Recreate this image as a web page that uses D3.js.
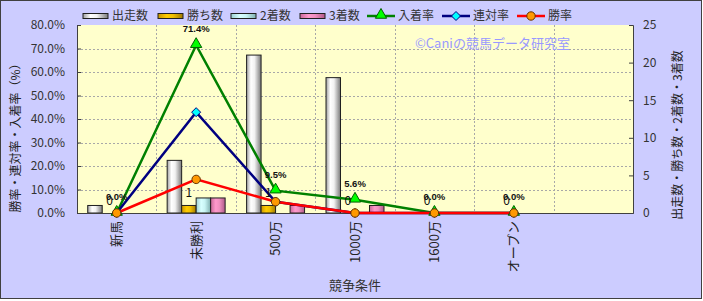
<!DOCTYPE html>
<html><head><meta charset="utf-8">
<script src="https://cdn.jsdelivr.net/npm/d3@7"></script>
<style>
html,body{margin:0;padding:0;background:#fff;}
svg text{font-family:"Noto Sans CJK JP","Noto Sans",sans-serif;}
</style></head>
<body><svg id="c" width="703" height="301"></svg>
<script>
// ---- data ----
const categories = ["新馬","未勝利","500万","1000万","1600万","オープン",""];
const runs    = [1, 7, 21, 18, 0, 0, null];
const wins    = [0, 1, 1, 0, 0, 0, null];
const seconds = [0, 2, 0, 0, 0, 0, null];
const thirds  = [0, 2, 1, 1, 0, 0, null];
const placeRate   = [0, 71.4, 9.5, 5.6, 0, 0, null];
const rentaiRate  = [0, 42.9, 4.8, 0, 0, 0, null];
const winRate     = [0, 14.3, 4.8, 0, 0, 0, null];
const leftTicks  = [0,10,20,30,40,50,60,70,80];
const rightTicks = [0,5,10,15,20,25];
const barSeries = [
  {key:"出走数", values:runs, grad:"gW"},
  {key:"勝ち数", values:wins, grad:"gY"},
  {key:"2着数", values:seconds, grad:"gC"},
  {key:"3着数", values:thirds, grad:"gP"}
];
const lineSeries = [
  {key:"入着率", values:placeRate, stroke:"#008000", fill:"#00ff00", mstroke:"#006000", sym:"tri"},
  {key:"連対率", values:rentaiRate, stroke:"#000080", fill:"#00ffff", mstroke:"#000080", sym:"dia"},
  {key:"勝率", values:winRate, stroke:"#ff0000", fill:"#ff9900", mstroke:"#663300", sym:"cir"}
];

// ---- layout ----
const svg = d3.select("#c");
const L=77, R=633, T=25, B=213;
svg.append("rect").attr("x",0.5).attr("y",0.5).attr("width",701).attr("height",298)
  .attr("fill","#ccccff").attr("stroke","#404040");

const defs = svg.append("defs");
function grad(id, stops){
  const g = defs.append("linearGradient").attr("id",id).attr("x1",0).attr("x2",1).attr("y1",0).attr("y2",0);
  stops.forEach(s=>g.append("stop").attr("offset",s[0]).attr("stop-color",s[1]));
}
grad("gW",[[0,"#a0a0a0"],[0.3,"#ffffff"],[0.55,"#f2f2f2"],[1,"#7a7a7a"]]);
grad("gY",[[0,"#c89600"],[0.35,"#ffcc00"],[0.6,"#f0c000"],[1,"#a07800"]]);
grad("gC",[[0,"#9cd0d0"],[0.35,"#d8ffff"],[0.6,"#c8f4f4"],[1,"#80b0b0"]]);
grad("gP",[[0,"#c86898"],[0.35,"#ff99cc"],[0.6,"#f090c0"],[1,"#b05888"]]);

const x = d3.scaleBand().domain(categories).range([L,R]).paddingInner(0).paddingOuter(0);
const x1 = d3.scaleBand().domain(barSeries.map(d=>d.key)).range([0,x.bandwidth()]).paddingInner(0).paddingOuter(0.74);
const yL = d3.scaleLinear().domain([0,80]).range([B,T]);
const yR = d3.scaleLinear().domain([0,25]).range([B,T]);

// plot area
svg.append("rect").attr("x",L).attr("y",T).attr("width",R-L).attr("height",B-T).attr("fill","#ffffcc");

// grid
const grid = svg.append("g").attr("stroke","#a8a8a8").attr("stroke-dasharray","2,2").attr("stroke-width",1);
leftTicks.filter(v=>v>0 && v<80).forEach(v=>{
  grid.append("line").attr("x1",L).attr("x2",R).attr("y1",Math.round(yL(v))+0.5).attr("y2",Math.round(yL(v))+0.5);
});
categories.slice(1).forEach(c=>{
  const xx = Math.round(x(c))+0.5;
  grid.append("line").attr("x1",xx).attr("x2",xx).attr("y1",T).attr("y2",B);
});

// watermark
svg.append("text").attr("x",415).attr("y",48).attr("fill","#9999ff").attr("font-size",13)
  .text("©Caniの競馬データ研究室");

// bars
const bars = svg.append("g");
barSeries.forEach(s=>{
  bars.selectAll(null).data(categories.map((c,i)=>({c, v:s.values[i]})).filter(d=>d.v>0))
    .enter().append("rect")
    .attr("x",d=>x(d.c)+x1(s.key))
    .attr("width",x1.bandwidth())
    .attr("y",d=>yR(d.v))
    .attr("height",d=>B-yR(d.v))
    .attr("fill","url(#"+s.grad+")")
    .attr("stroke","#202020").attr("stroke-width",1);
});

// axes
const axL = svg.append("g").attr("transform",`translate(${L},0)`)
  .call(d3.axisLeft(yL).tickValues(leftTicks).tickFormat(d=>d.toFixed(1)+"%").tickSizeInner(-4).tickSizeOuter(-4).tickPadding(12));
const axR = svg.append("g").attr("transform",`translate(${R},0)`)
  .call(d3.axisRight(yR).tickValues(rightTicks).tickSizeInner(-4).tickSizeOuter(-4).tickPadding(10));
const axB = svg.append("g").attr("transform",`translate(0,${B})`)
  .call(d3.axisBottom(x).tickSize(0).tickPadding(0));
[axL,axR,axB].forEach(a=>{
  a.selectAll("path,line").attr("stroke","#404040");
  a.selectAll("text").attr("fill","#333").attr("font-size",12)
   .style("font-family",'"Noto Sans CJK JP",sans-serif');
});
axB.selectAll("text").attr("transform","rotate(-90)").attr("text-anchor","end")
  .attr("x",-8).attr("y",0).attr("dy","0.35em").attr("font-size",13).attr("fill","#222");

// lines
const line = d3.line().defined(d=>d.v!=null).x(d=>x(d.c)+x.bandwidth()/2);
function marker(g, type, fill, stroke){
  if(type==="tri") g.append("path").attr("d",d3.symbol(d3.symbolTriangle,55)()).attr("transform","translate(0,-1)");
  else if(type==="dia") g.append("path").attr("d","M0,-4.5L4.5,0L0,4.5L-4.5,0Z");
  else g.append("circle").attr("r",4.2);
  g.selectAll("*").attr("fill",fill).attr("stroke",stroke).attr("stroke-width",1);
}
lineSeries.forEach(s=>{
  const pts = categories.map((c,i)=>({c, v:s.values[i]}));
  svg.append("path").datum(pts).attr("fill","none").attr("stroke",s.stroke).attr("stroke-width",2.5)
    .attr("d",line.y(d=>yL(d.v)));
});
lineSeries.forEach(s=>{
  categories.forEach((c,i)=>{
    const v = s.values[i]; if(v==null) return;
    const g = svg.append("g").attr("transform",`translate(${x(c)+x.bandwidth()/2},${yL(v)})`);
    marker(g, s.sym, s.fill, s.mstroke);
  });
});

// data labels
categories.forEach((c,i)=>{
  if(wins[i]==null) return;
  svg.append("text").attr("x",x(c)+x1("勝ち数")+x1.bandwidth()/2).attr("y",yR(wins[i])-8)
    .attr("text-anchor","middle").attr("font-size",12).attr("fill","#111").text(wins[i]);
});
categories.forEach((c,i)=>{
  const v = placeRate[i]; if(v==null) return;
  svg.append("text").attr("x",x(c)+x.bandwidth()/2).attr("y",yL(v)-13)
    .attr("text-anchor","middle").attr("font-size",9.5).attr("font-weight","bold")
    .style("font-family",'"Liberation Sans",Arial,sans-serif').attr("fill","#111").text(v.toFixed(1)+"%");
});

// axis titles
svg.append("text").attr("transform","translate(16,135) rotate(-90)").attr("text-anchor","middle")
  .attr("dy","0.35em").attr("font-size",12).attr("fill","#222").text("勝率・連対率・入着率（%）");
svg.append("text").attr("transform","translate(678,135) rotate(-90)").attr("text-anchor","middle")
  .attr("dy","0.35em").attr("font-size",12).attr("fill","#222").text("出走数・勝ち数・2着数・3着数");
svg.append("text").attr("x",355).attr("y",290).attr("text-anchor","middle")
  .attr("font-size",13).attr("fill","#333").text("競争条件");

// legend
const leg = svg.append("g");
const barLegX = [83,158,231,300];
barSeries.forEach((s,i)=>{
  leg.append("rect").attr("x",barLegX[i]).attr("y",13.5).attr("width",25).attr("height",5)
    .attr("fill","url(#"+s.grad+")").attr("stroke","#202020");
  leg.append("text").attr("x",barLegX[i]+29).attr("y",16).attr("dy","0.35em").attr("font-size",12)
    .attr("fill","#333").text(s.key);
});
const lineLegX = [367,442,517];
lineSeries.forEach((s,i)=>{
  leg.append("line").attr("x1",lineLegX[i]).attr("x2",lineLegX[i]+28).attr("y1",16).attr("y2",16)
    .attr("stroke",s.stroke).attr("stroke-width",2.5);
  const g = leg.append("g").attr("transform",`translate(${lineLegX[i]+14},16)`);
  marker(g, s.sym, s.fill, s.mstroke);
  leg.append("text").attr("x",lineLegX[i]+31).attr("y",16).attr("dy","0.35em").attr("font-size",12)
    .attr("fill","#333").text(s.key);
});
</script></body></html>
